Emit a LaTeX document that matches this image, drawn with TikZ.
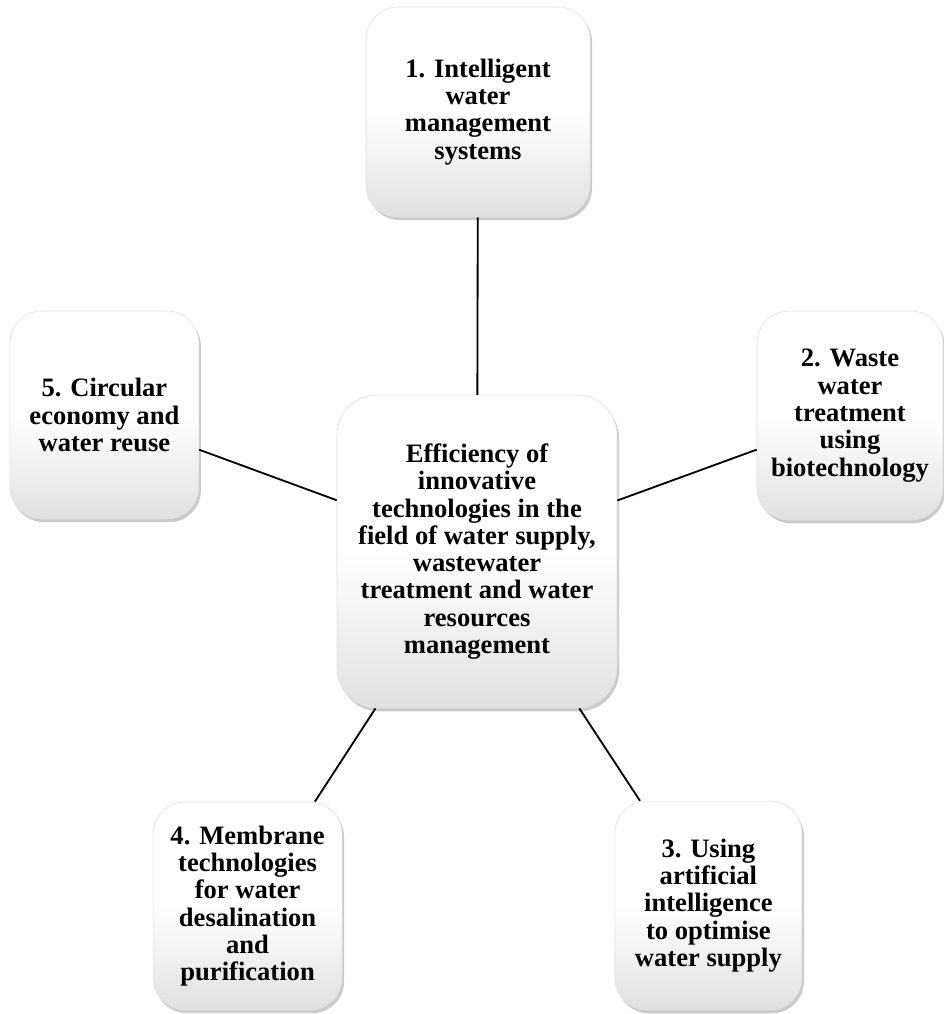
\documentclass[tikz,border=0pt]{standalone}
\usepackage{fontspec}
\setmainfont{Liberation Serif}
\usetikzlibrary{shadows}

\tikzset{
  caja/.style={rounded corners=0.8cm, draw=black!12,
    top color=white, bottom color=black!12, middle color=white,
    drop shadow={shadow xshift=0.05cm, shadow yshift=-0.08cm, fill=black!45, opacity=0.45},
    align=center, inner sep=0pt,
    font=\fontsize{18.9}{19.4}\selectfont\bfseries},
  conector/.style={line width=1.3pt, black}
}

\begin{document}
\begin{tikzpicture}
    \useasboundingbox (0,0) rectangle (23.575,-25.35);
    % Caja central
    \node[caja, rounded corners=1cm, minimum width=7cm, minimum height=7.825cm] (centro) at (11.925,-13.79)
        {Efficiency of\\innovative\\technologies in the\\field of water supply,\\wastewater\\treatment and water\\resources\\management};
    % Cajas
    \node[caja, minimum width=5.6cm, minimum height=5.25cm] (sistemas) at (11.95,-2.8)
        {1. Intelligent\\water\\management\\systems};
    \node[caja, minimum width=4.65cm, minimum height=5.225cm] (biotec) at (21.25,-10.39)
        {2. Waste\\water\\treatment\\using\\biotechnology};
    \node[caja, minimum width=4.675cm, minimum height=5.225cm] (ia) at (17.71,-22.64)
        {3. Using\\artificial\\intelligence\\to optimise\\water supply};
    \node[caja, minimum width=4.725cm, minimum height=5.2cm] (membranas) at (6.19,-22.65)
        {4. Membrane\\technologies\\for water\\desalination\\and\\purification};
    \node[caja, minimum width=4.725cm, minimum height=5.2cm] (circular) at (2.61,-10.375)
        {5. Circular\\economy and\\water reuse};
    % Conectores
    \foreach \b in {sistemas,biotec,ia,membranas,circular}{
        \draw[conector] (centro) -- (\b);
    }
\end{tikzpicture}
\end{document}
